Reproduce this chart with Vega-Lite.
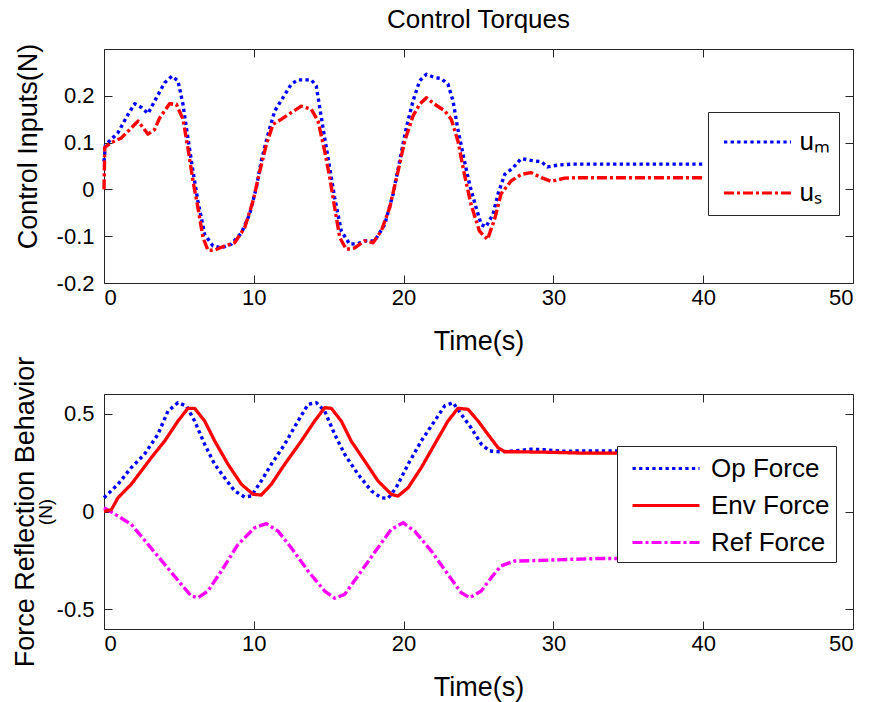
{
  "$schema": "https://vega.github.io/schema/vega-lite/v6.json",
  "background": "white",
  "padding": {"left": 10, "top": 6, "right": 5, "bottom": 5},
  "config": {
    "font": "Liberation Sans",
    "view": {"stroke": "#262626", "strokeWidth": 1},
    "axis": {
      "grid": false,
      "domain": false,
      "labelFont": "Liberation Sans",
      "labelFontSize": 22,
      "labelColor": "black",
      "titleFont": "Liberation Sans",
      "titleFontSize": 27,
      "titleFontWeight": "normal",
      "titleColor": "black",
      "tickColor": "#262626",
      "tickSize": -8,
      "tickWidth": 1,
      "labelExpr": "replace(datum.label, '\u2212', '-')"
    },
    "legend": {
      "labelFont": "Liberation Sans",
      "labelColor": "black",
      "symbolStrokeWidth": 3
    },
    "line": {"strokeCap": "butt", "strokeJoin": "round"}
  },
  "datasets": {
    "um": [
      {"t": 0, "v": 0.06}, {"t": 0.1, "v": 0.095}, {"t": 0.93, "v": 0.121}, {"t": 1.6, "v": 0.16}, {"t": 2.05, "v": 0.183}, {"t": 2.5, "v": 0.175}, {"t": 2.94, "v": 0.162}, {"t": 3.5, "v": 0.196}, {"t": 4.05, "v": 0.228}, {"t": 4.54, "v": 0.242}, {"t": 4.94, "v": 0.232}, {"t": 5.27, "v": 0.182}, {"t": 5.6, "v": 0.11}, {"t": 5.94, "v": 0.039}, {"t": 6.27, "v": -0.025}, {"t": 6.72, "v": -0.096}, {"t": 7.28, "v": -0.121}, {"t": 7.83, "v": -0.125}, {"t": 8.5, "v": -0.117}, {"t": 9.17, "v": -0.093}, {"t": 9.72, "v": -0.053}, {"t": 10.17, "v": 0.004}, {"t": 10.5, "v": 0.061}, {"t": 10.95, "v": 0.118}, {"t": 11.4, "v": 0.168}, {"t": 11.95, "v": 0.196}, {"t": 12.5, "v": 0.225}, {"t": 12.95, "v": 0.234}, {"t": 13.84, "v": 0.234}, {"t": 14.17, "v": 0.221}, {"t": 14.4, "v": 0.175}, {"t": 14.73, "v": 0.11}, {"t": 15.07, "v": 0.046}, {"t": 15.4, "v": -0.018}, {"t": 15.84, "v": -0.089}, {"t": 16.4, "v": -0.117}, {"t": 16.96, "v": -0.116}, {"t": 17.4, "v": -0.11}, {"t": 18.07, "v": -0.11}, {"t": 18.74, "v": -0.075}, {"t": 19.3, "v": -0.01}, {"t": 19.74, "v": 0.061}, {"t": 20.18, "v": 0.132}, {"t": 20.63, "v": 0.189}, {"t": 21.07, "v": 0.232}, {"t": 21.52, "v": 0.246}, {"t": 22.07, "v": 0.239}, {"t": 22.5, "v": 0.237}, {"t": 22.96, "v": 0.225}, {"t": 23.3, "v": 0.189}, {"t": 23.6, "v": 0.132}, {"t": 24.06, "v": 0.061}, {"t": 24.4, "v": 0.011}, {"t": 24.84, "v": -0.039}, {"t": 25.18, "v": -0.075}, {"t": 25.5, "v": -0.08}, {"t": 25.97, "v": -0.053}, {"t": 26.3, "v": -0.01}, {"t": 26.75, "v": 0.032}, {"t": 27.3, "v": 0.046}, {"t": 27.85, "v": 0.066}, {"t": 28.5, "v": 0.062}, {"t": 29.2, "v": 0.059}, {"t": 29.6, "v": 0.048}, {"t": 30.3, "v": 0.052}, {"t": 31.2, "v": 0.054}, {"t": 35, "v": 0.054}, {"t": 40, "v": 0.054}
    ],
    "us": [
      {"t": 0, "v": 0.0}, {"t": 0.05, "v": 0.09}, {"t": 0.49, "v": 0.1}, {"t": 1.16, "v": 0.11}, {"t": 1.84, "v": 0.132}, {"t": 2.27, "v": 0.146}, {"t": 2.94, "v": 0.118}, {"t": 3.38, "v": 0.128}, {"t": 3.72, "v": 0.153}, {"t": 4.38, "v": 0.183}, {"t": 4.83, "v": 0.182}, {"t": 5.27, "v": 0.15}, {"t": 5.6, "v": 0.089}, {"t": 5.94, "v": 0.018}, {"t": 6.27, "v": -0.039}, {"t": 6.61, "v": -0.103}, {"t": 6.94, "v": -0.13}, {"t": 7.38, "v": -0.13}, {"t": 8.05, "v": -0.121}, {"t": 8.72, "v": -0.114}, {"t": 9.39, "v": -0.082}, {"t": 9.95, "v": -0.025}, {"t": 10.4, "v": 0.039}, {"t": 10.84, "v": 0.096}, {"t": 11.28, "v": 0.139}, {"t": 11.84, "v": 0.15}, {"t": 12.5, "v": 0.164}, {"t": 13.17, "v": 0.178}, {"t": 13.84, "v": 0.171}, {"t": 14.29, "v": 0.146}, {"t": 14.73, "v": 0.082}, {"t": 15.07, "v": 0.025}, {"t": 15.4, "v": -0.039}, {"t": 15.74, "v": -0.103}, {"t": 16.18, "v": -0.128}, {"t": 16.74, "v": -0.125}, {"t": 17.4, "v": -0.11}, {"t": 17.96, "v": -0.114}, {"t": 18.51, "v": -0.089}, {"t": 19.07, "v": -0.039}, {"t": 19.63, "v": 0.039}, {"t": 20.07, "v": 0.103}, {"t": 20.63, "v": 0.157}, {"t": 21.07, "v": 0.182}, {"t": 21.52, "v": 0.196}, {"t": 22.07, "v": 0.182}, {"t": 22.74, "v": 0.168}, {"t": 23.18, "v": 0.15}, {"t": 23.63, "v": 0.103}, {"t": 24.06, "v": 0.032}, {"t": 24.5, "v": -0.032}, {"t": 25.06, "v": -0.089}, {"t": 25.6, "v": -0.107}, {"t": 26.08, "v": -0.063}, {"t": 26.5, "v": -0.01}, {"t": 27.17, "v": 0.018}, {"t": 27.85, "v": 0.032}, {"t": 28.5, "v": 0.036}, {"t": 29.2, "v": 0.025}, {"t": 29.85, "v": 0.017}, {"t": 30.75, "v": 0.024}, {"t": 31.6, "v": 0.025}, {"t": 40, "v": 0.025}
    ],
    "op": [
      {"t": 0, "v": 0.07}, {"t": 0.93, "v": 0.139}, {"t": 1.82, "v": 0.224}, {"t": 2.7, "v": 0.292}, {"t": 3.6, "v": 0.394}, {"t": 4.27, "v": 0.513}, {"t": 4.94, "v": 0.556}, {"t": 5.5, "v": 0.539}, {"t": 6.05, "v": 0.462}, {"t": 6.72, "v": 0.343}, {"t": 7.39, "v": 0.241}, {"t": 8.05, "v": 0.172}, {"t": 8.72, "v": 0.105}, {"t": 9.39, "v": 0.074}, {"t": 9.83, "v": 0.079}, {"t": 10.5, "v": 0.156}, {"t": 11.17, "v": 0.241}, {"t": 12.06, "v": 0.343}, {"t": 12.95, "v": 0.462}, {"t": 13.62, "v": 0.547}, {"t": 14.17, "v": 0.556}, {"t": 14.73, "v": 0.513}, {"t": 15.4, "v": 0.394}, {"t": 16.07, "v": 0.292}, {"t": 16.96, "v": 0.19}, {"t": 17.85, "v": 0.105}, {"t": 18.5, "v": 0.07}, {"t": 18.96, "v": 0.067}, {"t": 19.5, "v": 0.121}, {"t": 20.3, "v": 0.241}, {"t": 21.18, "v": 0.36}, {"t": 22.07, "v": 0.462}, {"t": 22.74, "v": 0.539}, {"t": 23.3, "v": 0.556}, {"t": 23.85, "v": 0.496}, {"t": 24.5, "v": 0.428}, {"t": 25.2, "v": 0.343}, {"t": 25.74, "v": 0.309}, {"t": 26.5, "v": 0.305}, {"t": 27.5, "v": 0.31}, {"t": 28.5, "v": 0.318}, {"t": 29.5, "v": 0.315}, {"t": 30.5, "v": 0.308}, {"t": 32, "v": 0.309}, {"t": 40, "v": 0.309}
    ],
    "env": [
      {"t": 0, "v": 0.0}, {"t": 0.5, "v": 0.01}, {"t": 0.93, "v": 0.07}, {"t": 1.82, "v": 0.139}, {"t": 3.16, "v": 0.275}, {"t": 4.05, "v": 0.36}, {"t": 4.94, "v": 0.462}, {"t": 5.6, "v": 0.527}, {"t": 6.05, "v": 0.527}, {"t": 6.72, "v": 0.462}, {"t": 7.39, "v": 0.36}, {"t": 8.28, "v": 0.241}, {"t": 9.17, "v": 0.139}, {"t": 9.95, "v": 0.088}, {"t": 10.5, "v": 0.084}, {"t": 11.17, "v": 0.139}, {"t": 12.06, "v": 0.241}, {"t": 13.17, "v": 0.36}, {"t": 14.06, "v": 0.462}, {"t": 14.73, "v": 0.53}, {"t": 15.17, "v": 0.527}, {"t": 15.84, "v": 0.462}, {"t": 16.5, "v": 0.36}, {"t": 17.4, "v": 0.258}, {"t": 18.29, "v": 0.156}, {"t": 19.18, "v": 0.088}, {"t": 19.63, "v": 0.079}, {"t": 20.3, "v": 0.121}, {"t": 21.18, "v": 0.224}, {"t": 22.07, "v": 0.343}, {"t": 22.96, "v": 0.462}, {"t": 23.63, "v": 0.527}, {"t": 24.3, "v": 0.522}, {"t": 24.97, "v": 0.462}, {"t": 25.63, "v": 0.394}, {"t": 26.3, "v": 0.326}, {"t": 26.75, "v": 0.305}, {"t": 27.6, "v": 0.305}, {"t": 30, "v": 0.302}, {"t": 32, "v": 0.298}, {"t": 40, "v": 0.298}
    ],
    "ref": [
      {"t": 0, "v": 0.019}, {"t": 0.93, "v": -0.023}, {"t": 1.82, "v": -0.066}, {"t": 2.94, "v": -0.168}, {"t": 4.05, "v": -0.27}, {"t": 5.16, "v": -0.372}, {"t": 5.83, "v": -0.432}, {"t": 6.28, "v": -0.44}, {"t": 6.94, "v": -0.406}, {"t": 7.83, "v": -0.304}, {"t": 8.95, "v": -0.168}, {"t": 10.06, "v": -0.083}, {"t": 10.84, "v": -0.062}, {"t": 11.62, "v": -0.1}, {"t": 12.5, "v": -0.185}, {"t": 13.62, "v": -0.304}, {"t": 14.73, "v": -0.406}, {"t": 15.4, "v": -0.443}, {"t": 16.07, "v": -0.423}, {"t": 17.18, "v": -0.304}, {"t": 18.29, "v": -0.185}, {"t": 19.18, "v": -0.091}, {"t": 19.96, "v": -0.057}, {"t": 20.74, "v": -0.1}, {"t": 21.85, "v": -0.202}, {"t": 22.96, "v": -0.321}, {"t": 23.85, "v": -0.415}, {"t": 24.41, "v": -0.44}, {"t": 25.18, "v": -0.406}, {"t": 25.85, "v": -0.338}, {"t": 26.5, "v": -0.278}, {"t": 27.4, "v": -0.253}, {"t": 29, "v": -0.25}, {"t": 31, "v": -0.245}, {"t": 33, "v": -0.24}, {"t": 40, "v": -0.24}
    ]
  },
  "bounds": "flush",
  "spacing": 111,
  "resolve": {"scale": {"x": "independent", "y": "independent", "color": "independent", "strokeDash": "independent"}},
  "vconcat": [
    {
      "width": 749,
      "height": 234,
      "title": {"text": "Control Torques", "fontSize": 26, "fontWeight": "normal", "font": "Liberation Sans", "color": "black", "offset": 10, "frame": "group"},
      "layer": [
        {
          "data": {"name": "um"},
          "mark": {"type": "line", "strokeWidth": 3.4},
          "encoding": {
            "x": {"field": "t", "type": "quantitative", "scale": {"domain": [0, 50], "nice": false}, "axis": {"title": "Time(s)", "values": [0, 10, 20, 30, 40, 50], "labelPadding": 12, "titlePadding": 20}},
            "y": {"field": "v", "type": "quantitative", "scale": {"domain": [-0.2, 0.3], "nice": false, "zero": false}, "axis": {"title": "Control Inputs(N)", "values": [-0.2, -0.1, 0, 0.1, 0.2], "format": "~r", "labelPadding": 18, "titlePadding": 14, "titleY": 97}},
            "color": {"datum": "uₘ", "type": "nominal", "scale": {"domain": ["uₘ", "uₛ"], "range": ["#0000FF", "#FF0000"]}, "legend": {"orient": "none", "legendX": 604, "legendY": 63, "title": null, "strokeColor": "#262626", "fillColor": "white", "padding": 8.5, "rowPadding": 16, "labelFontSize": 26, "labelOffset": 40, "symbolType": "M-0.7,0H2.65", "symbolSize": 1600}},
            "strokeDash": {"datum": "uₘ", "type": "nominal", "scale": {"domain": ["uₘ", "uₛ"], "range": [[3.3, 3.3], [10, 3, 3, 3]]}, "legend": {"orient": "none", "legendX": 604, "legendY": 63, "title": null, "strokeColor": "#262626", "fillColor": "white", "padding": 8.5, "rowPadding": 16, "labelFontSize": 26, "labelOffset": 40, "symbolType": "M-0.7,0H2.65", "symbolSize": 1600}}
          }
        },
        {
          "data": {"name": "us"},
          "mark": {"type": "line", "strokeWidth": 3.4},
          "encoding": {
            "x": {"field": "t", "type": "quantitative", "scale": {"domain": [0, 50], "nice": false}, "axis": {"orient": "top", "title": null, "labels": false, "values": [0, 10, 20, 30, 40, 50]}},
            "y": {"field": "v", "type": "quantitative", "scale": {"domain": [-0.2, 0.3], "nice": false, "zero": false}, "axis": {"orient": "right", "title": null, "labels": false, "values": [-0.2, -0.1, 0, 0.1, 0.2]}},
            "color": {"datum": "uₛ", "type": "nominal"},
            "strokeDash": {"datum": "uₛ", "type": "nominal"}
          }
        }
      ],
      "resolve": {"scale": {"x": "independent", "y": "independent"}}
    },
    {
      "width": 749,
      "height": 235,
      "layer": [
        {
          "data": {"name": "op"},
          "mark": {"type": "line", "strokeWidth": 3.4},
          "encoding": {
            "x": {"field": "t", "type": "quantitative", "scale": {"domain": [0, 50], "nice": false}, "axis": {"title": "Time(s)", "values": [0, 10, 20, 30, 40, 50], "labelPadding": 12, "titlePadding": 20}},
            "y": {"field": "v", "type": "quantitative", "scale": {"domain": [-0.6, 0.6], "nice": false, "zero": false}, "axis": {"title": "Force Reflection Behavior", "values": [-0.5, 0, 0.5], "format": "~r", "labelPadding": 18, "titlePadding": 17}},
            "color": {"datum": "Op Force", "type": "nominal", "scale": {"domain": ["Op Force", "Env Force", "Ref Force"], "range": ["#0000FF", "#FF0000", "#FF00FF"]}, "legend": {"orient": "none", "legendX": 513, "legendY": 52, "title": null, "strokeColor": "#262626", "fillColor": "white", "padding": 6, "rowPadding": 7, "labelFontSize": 26, "labelOffset": 55, "symbolType": "M-0.4667,0H4", "symbolSize": 900}},
            "strokeDash": {"datum": "Op Force", "type": "nominal", "scale": {"domain": ["Op Force", "Env Force", "Ref Force"], "range": [[3.3, 3.3], [1, 0], [10, 3, 3, 3]]}, "legend": {"orient": "none", "legendX": 513, "legendY": 52, "title": null, "strokeColor": "#262626", "fillColor": "white", "padding": 6, "rowPadding": 7, "labelFontSize": 26, "labelOffset": 55, "symbolType": "M-0.4667,0H4", "symbolSize": 900}}
          }
        },
        {
          "data": {"name": "ref"},
          "mark": {"type": "line", "strokeWidth": 3.4},
          "encoding": {
            "x": {"field": "t", "type": "quantitative", "scale": {"domain": [0, 50], "nice": false}, "axis": {"orient": "top", "title": null, "labels": false, "values": [0, 10, 20, 30, 40, 50]}},
            "y": {"field": "v", "type": "quantitative", "scale": {"domain": [-0.6, 0.6], "nice": false, "zero": false}, "axis": {"orient": "left", "title": "(N)", "titleFontSize": 19, "labels": false, "ticks": false, "titlePadding": 49}},
            "color": {"datum": "Ref Force", "type": "nominal"},
            "strokeDash": {"datum": "Ref Force", "type": "nominal"}
          }
        },
        {
          "data": {"name": "env"},
          "mark": {"type": "line", "strokeWidth": 3.3},
          "encoding": {
            "x": {"field": "t", "type": "quantitative", "scale": {"domain": [0, 50], "nice": false}, "axis": null},
            "y": {"field": "v", "type": "quantitative", "scale": {"domain": [-0.6, 0.6], "nice": false, "zero": false}, "axis": {"orient": "right", "title": null, "labels": false, "values": [-0.5, 0, 0.5]}},
            "color": {"datum": "Env Force", "type": "nominal"},
            "strokeDash": {"datum": "Env Force", "type": "nominal"}
          }
        }
      ],
      "resolve": {"scale": {"x": "independent", "y": "independent"}}
    }
  ]
}
